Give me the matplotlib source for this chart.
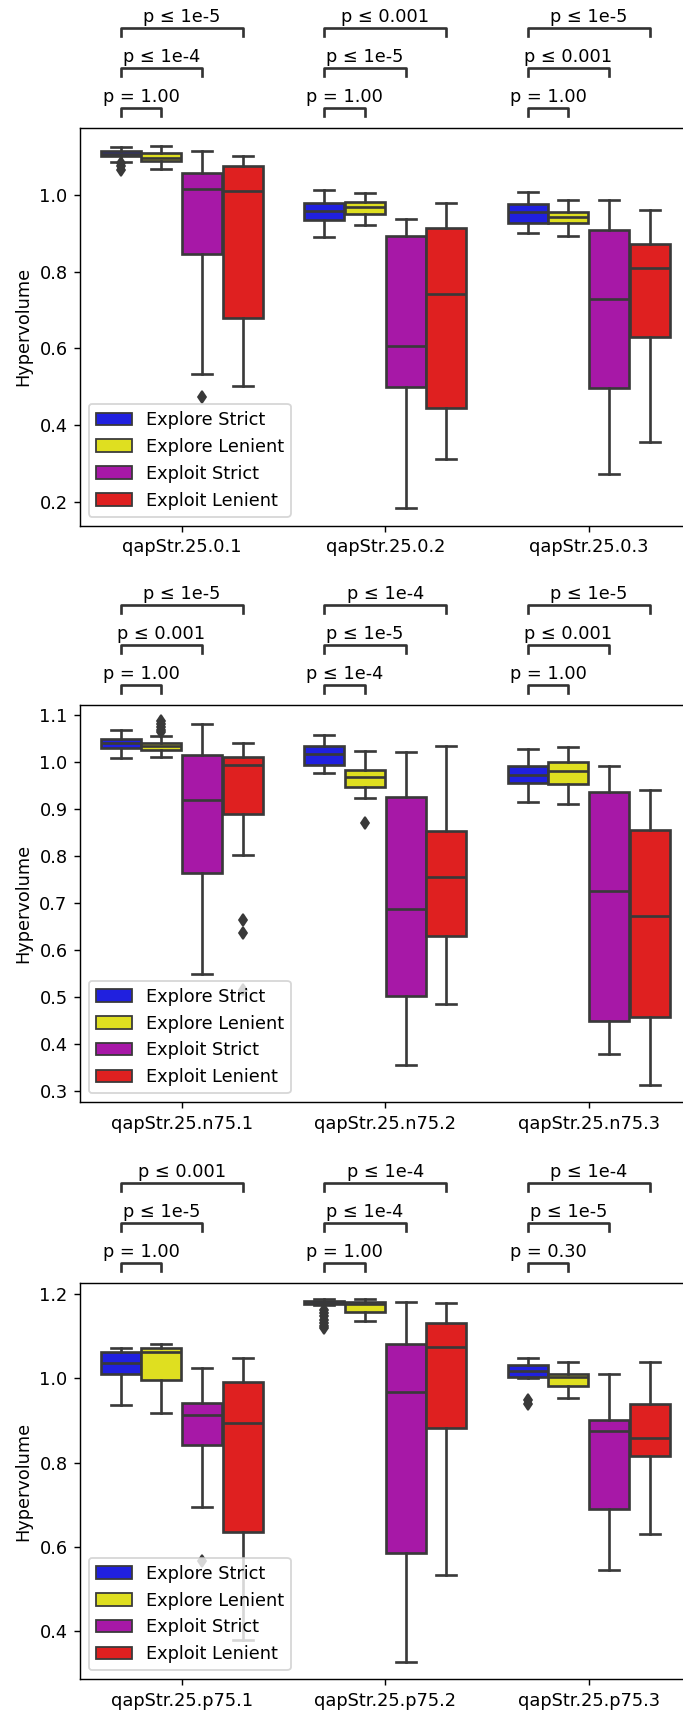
import colorsys
import matplotlib
matplotlib.use("Agg")
import matplotlib.pyplot as plt
import matplotlib.colors as mcolors
import matplotlib.transforms as mtransforms
from matplotlib.patches import Patch
import numpy as np

hue_names = ["Explore Strict", "Explore Lenient", "Exploit Strict", "Exploit Lenient"]
base_colors = ["blue", "yellow", "m", "red"]

# box summaries per category: [whislo, q1, median, q3, whishi]
cats_1 = ["qapStr.25.0.1", "qapStr.25.0.2", "qapStr.25.0.3"]
p1_explore_strict = [[1.086, 1.102, 1.107, 1.115, 1.124], [0.890, 0.935, 0.959, 0.979, 1.012], [0.902, 0.928, 0.957, 0.976, 1.009]]
p1_explore_lenient = [[1.068, 1.088, 1.096, 1.110, 1.128], [0.921, 0.951, 0.968, 0.982, 1.005], [0.893, 0.928, 0.943, 0.957, 0.986]]
p1_exploit_strict = [[0.533, 0.845, 1.016, 1.058, 1.116], [0.184, 0.499, 0.607, 0.894, 0.937], [0.273, 0.497, 0.729, 0.908, 0.986]]
p1_exploit_lenient = [[0.501, 0.680, 1.010, 1.075, 1.101], [0.312, 0.444, 0.743, 0.914, 0.980], [0.355, 0.629, 0.810, 0.872, 0.960]]
p1_fliers = [
    [[1.083, 1.075, 1.066], [], []],
    [[], [], []],
    [[0.474], [], []],
    [[], [], []],
]
p1_pvals = [["p = 1.00", "p ≤ 1e-4", "p ≤ 1e-5"],
            ["p = 1.00", "p ≤ 1e-5", "p ≤ 0.001"],
            ["p = 1.00", "p ≤ 0.001", "p ≤ 1e-5"]]

cats_2 = ["qapStr.25.n75.1", "qapStr.25.n75.2", "qapStr.25.n75.3"]
p2_explore_strict = [[1.0085, 1.030, 1.040, 1.050, 1.069], [0.976, 0.994, 1.016, 1.035, 1.058], [0.914, 0.955, 0.972, 0.991, 1.027]]
p2_explore_lenient = [[1.011, 1.026, 1.034, 1.041, 1.055], [0.924, 0.946, 0.968, 0.983, 1.023], [0.911, 0.954, 0.981, 0.999, 1.033]]
p2_exploit_strict = [[0.548, 0.763, 0.919, 1.014, 1.080], [0.356, 0.502, 0.687, 0.926, 1.021], [0.378, 0.449, 0.726, 0.9355, 0.9915]]
p2_exploit_lenient = [[0.802, 0.890, 0.993, 1.011, 1.040], [0.485, 0.629, 0.755, 0.853, 1.034], [0.313, 0.457, 0.673, 0.856, 0.940]]
p2_fliers = [
    [[], [], []],
    [[1.088, 1.081, 1.074, 1.068, 1.063], [0.870], []],
    [[], [], []],
    [[0.664, 0.636, 0.514], [], []],
]
p2_pvals = [["p = 1.00", "p ≤ 0.001", "p ≤ 1e-5"],
            ["p ≤ 1e-4", "p ≤ 1e-5", "p ≤ 1e-4"],
            ["p = 1.00", "p ≤ 0.001", "p ≤ 1e-5"]]

cats_3 = ["qapStr.25.p75.1", "qapStr.25.p75.2", "qapStr.25.p75.3"]
p3_explore_strict = [[0.937, 1.010, 1.036, 1.064, 1.073], [1.174, 1.176, 1.180, 1.185, 1.189], [1.000, 1.003, 1.017, 1.032, 1.048]]
p3_explore_lenient = [[0.919, 0.996, 1.064, 1.0725, 1.083], [1.136, 1.158, 1.177, 1.183, 1.188], [0.953, 0.983, 1.003, 1.011, 1.038]]
p3_exploit_strict = [[0.695, 0.841, 0.914, 0.942, 1.026], [0.326, 0.585, 0.968, 1.083, 1.182], [0.545, 0.689, 0.875, 0.901, 1.011]]
p3_exploit_lenient = [[0.379, 0.635, 0.895, 0.991, 1.048], [0.533, 0.883, 1.074, 1.131, 1.179], [0.630, 0.815, 0.859, 0.939, 1.038]]
p3_fliers = [
    [[], [1.163, 1.155, 1.148, 1.140, 1.132, 1.125, 1.120], [0.948, 0.940]],
    [[], [], []],
    [[0.565], [], []],
    [[], [], []],
]
p3_pvals = [["p = 1.00", "p ≤ 1e-5", "p ≤ 0.001"],
            ["p = 1.00", "p ≤ 1e-4", "p ≤ 1e-4"],
            ["p = 0.30", "p ≤ 1e-5", "p ≤ 1e-4"]]


def desaturate(color, prop):
    r, g, b = mcolors.to_rgb(color)
    h, l, s = colorsys.rgb_to_hls(r, g, b)
    return colorsys.hls_to_rgb(h, l, s * prop)


colors = [desaturate(c, 0.75) for c in base_colors]
lum = min(colorsys.rgb_to_hls(*c)[1] for c in colors) * 0.6
gray = (lum, lum, lum)
lw = 1.5

dpi = 128
W, H = 683, 1711
fig = plt.figure(figsize=(W / dpi, H / dpi), dpi=dpi)

# axes boxes in pixels: left, top, bottom
ax_left, ax_width = 80, 610.5
panels = [
    (cats_1, [p1_explore_strict, p1_explore_lenient, p1_exploit_strict, p1_exploit_lenient], p1_fliers, p1_pvals,
     127.7, 525.7, (0.1374, 1.1756), [0.2, 0.4, 0.6, 0.8, 1.0]),
    (cats_2, [p2_explore_strict, p2_explore_lenient, p2_exploit_strict, p2_exploit_lenient], p2_fliers, p2_pvals,
     705.0, 1102.3, (0.276, 1.1213), [0.3, 0.4, 0.5, 0.6, 0.7, 0.8, 0.9, 1.0, 1.1]),
    (cats_3, [p3_explore_strict, p3_explore_lenient, p3_exploit_strict, p3_exploit_lenient], p3_fliers, p3_pvals,
     1282.7, 1679.3, (0.2844, 1.2278), [0.4, 0.6, 0.8, 1.0, 1.2]),
]

offsets = [-0.3, -0.1, 0.1, 0.3]
box_w = 0.8 / 4 * 0.98

for cats, series, fliers, pvals, top, bottom, ylim, yticks in panels:
    ax = fig.add_axes([ax_left / W, (H - bottom) / H, ax_width / W, (bottom - top) / H])
    x = np.arange(len(cats))
    for j, vals in enumerate(series):
        stats = []
        for i, v in enumerate(vals):
            stats.append(dict(whislo=v[0], q1=v[1], med=v[2], q3=v[3], whishi=v[4],
                              fliers=fliers[j][i]))
        ax.bxp(stats, positions=x + offsets[j], widths=box_w, patch_artist=True,
               manage_ticks=False,
               boxprops=dict(facecolor=colors[j], edgecolor=gray, linewidth=lw),
               medianprops=dict(color=gray, linewidth=lw),
               whiskerprops=dict(color=gray, linewidth=lw),
               capprops=dict(color=gray, linewidth=lw),
               flierprops=dict(marker="d", markerfacecolor=gray, markeredgecolor=gray,
                               markersize=5, linestyle="none"))
    ax.set_xlim(-0.5, len(cats) - 0.5)
    ax.set_ylim(*ylim)
    ax.set_xticks(x)
    ax.set_xticklabels(cats)
    ax.set_yticks(yticks)
    ax.set_yticklabels([f"{t:.1f}" for t in yticks])
    ax.set_ylabel("Hypervolume")

    handles = [Patch(facecolor=colors[j], edgecolor=gray, linewidth=1.0, label=hue_names[j])
               for j in range(4)]
    ax.legend(handles=handles, loc="lower left")

    # significance brackets above the axes
    h_px = bottom - top
    trans = mtransforms.blended_transform_factory(ax.transData, ax.transAxes)
    tick = 8.4 / h_px
    for i in range(len(cats)):
        for k, ends in enumerate([offsets[1], offsets[2], offsets[3]]):
            y = 1 + (20 + 40 * k) / h_px
            x1, x2 = i + offsets[0], i + ends
            ax.plot([x1, x1, x2, x2], [y - tick, y, y, y - tick], color="0.2", lw=lw,
                    transform=trans, clip_on=False)
            ax.annotate(pvals[i][k], xy=((x1 + x2) / 2, y), xycoords=trans,
                        xytext=(0, 1.0), textcoords="offset points",
                        ha="center", va="bottom")

fig.savefig("out.png", dpi=dpi)
